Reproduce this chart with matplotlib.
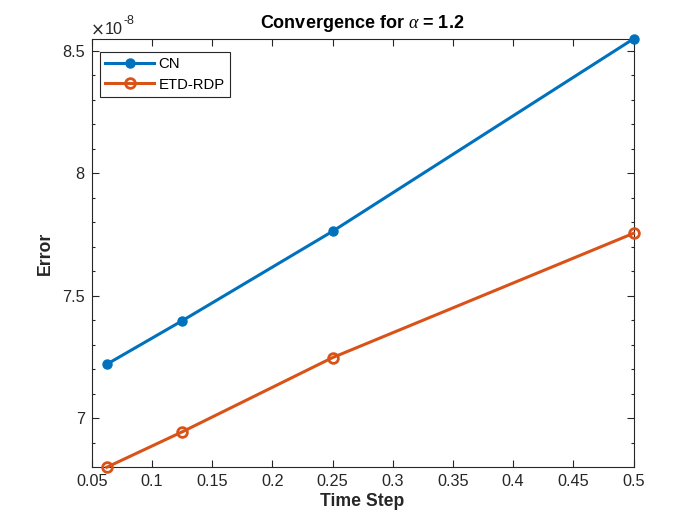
import matplotlib
matplotlib.use("Agg")
import matplotlib.pyplot as plt
from matplotlib.ticker import FuncFormatter, MultipleLocator

time_step = [0.0625, 0.125, 0.25, 0.5]
cn_error = [7.221e-8, 7.398e-8, 7.763e-8, 8.548e-8]
etd_error = [6.801e-8, 6.945e-8, 7.248e-8, 7.755e-8]
x_ticks = [0.05, 0.1, 0.15, 0.2, 0.25, 0.3, 0.35, 0.4, 0.45, 0.5]
y_ticks = [7e-8, 7.5e-8, 8e-8, 8.5e-8]

plt.rcParams['font.family'] = ['Liberation Sans', 'DejaVu Sans']
plt.rcParams['mathtext.fontset'] = 'custom'
plt.rcParams['mathtext.rm'] = 'Liberation Sans'
plt.rcParams['mathtext.it'] = 'Liberation Serif:italic'
ax_color = '#262626'

fig = plt.figure(figsize=(7, 5.25), dpi=100)
ax = fig.add_axes([0.131, 0.110, 0.774, 0.816])

ax.plot(time_step, cn_error, '-o', color='#0072BD', lw=2.2, ms=6.5,
        mfc='#0072BD', mec='#0072BD', label='CN', clip_on=False, zorder=3)
ax.plot(time_step, etd_error, '-o', color='#D95319', lw=2.2, ms=7,
        mfc='none', mec='#D95319', mew=2, label='ETD-RDP', clip_on=False, zorder=3)

ax.set_xlim(0.05, 0.5)
ax.set_ylim(min(etd_error), max(cn_error))
ax.set_xticks(x_ticks)
ax.set_yticks(y_ticks)
ax.yaxis.set_minor_locator(MultipleLocator(0.1e-8))
ax.xaxis.set_major_formatter(FuncFormatter(lambda v, p: f"{v:g}"))
ax.yaxis.set_major_formatter(FuncFormatter(lambda v, p: f"{v/1e-8:g}"))

ax.tick_params(which='both', direction='in', top=True, right=True,
               colors=ax_color, labelsize=11.7, width=0.8)
ax.tick_params(which='major', length=5, pad=5)
ax.tick_params(which='minor', length=2.5)
for s in ax.spines.values():
    s.set_color(ax_color)
    s.set_linewidth(0.8)

# exponent label, MATLAB style
fig.text(91 / 700, 1 - 31 / 525, '\u00d7', ha='left', va='center',
         fontsize=12, color=ax_color, family='DejaVu Sans')
fig.text(105 / 700, 1 - 30 / 525, '10', ha='left', va='center',
         fontsize=11.7, color=ax_color)
fig.text(123 / 700, 1 - 21 / 525, '-8', ha='left', va='center',
         fontsize=9, color=ax_color)

ax.set_title(r'Convergence for $\alpha$ = 1.2', fontsize=13, fontweight='bold',
             color='black', pad=8)
ax.set_xlabel('Time Step', fontsize=12.7, fontweight='bold', color=ax_color, labelpad=3)
ax.set_ylabel('Error', fontsize=12.7, fontweight='bold', color=ax_color, labelpad=6)

leg = ax.legend(loc='upper left', bbox_to_anchor=(0.0148, 0.970), borderaxespad=0,
                fontsize=10.7, handlelength=3.3, fancybox=False,
                edgecolor=ax_color, framealpha=1,
                handletextpad=0.27, borderpad=0.38, labelspacing=0.42)
leg.get_frame().set_linewidth(0.8)

fig.savefig('out.png', dpi=100)
